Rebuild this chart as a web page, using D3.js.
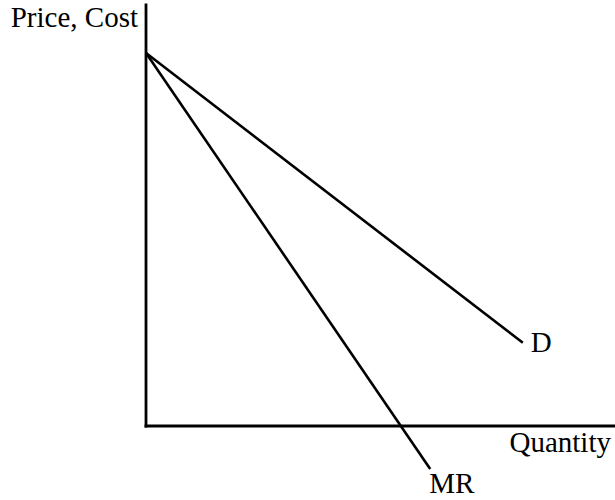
<!DOCTYPE html>
<html>
<head>
<meta charset="utf-8">
<script src="https://cdn.jsdelivr.net/npm/d3@7"></script>
<style>
  html, body { margin: 0; padding: 0; background: #fff; }
  svg { display: block; }
  text { font-family: "Liberation Serif", "Times New Roman", serif; fill: #000; }
</style>
</head>
<body>
<svg width="615" height="500"></svg>
<script>
// значения (условные единицы)
const axisExtent = { q: 9.67, p: 11.29 };

const demandPoints = [[0, 10], [7.77, 2.23]];
const mrPoints = [[0, 10], [5.86, -1.15]];

const axisLabels = ["Price, Cost", "Quantity"];
const curveLabels = ["D", "MR"];

const svg = d3.select("svg");

const attr_area = {
    originX: 146,
    originY: 426,
    unitX: 48.5,
    unitY: 37.3
};

const scX = d3.scaleLinear()
    .domain([0, 10])
    .range([attr_area.originX, attr_area.originX + 10 * attr_area.unitX]);

const scY = d3.scaleLinear()
    .domain([0, 10])
    .range([attr_area.originY, attr_area.originY - 10 * attr_area.unitY]);

// оси
const axes = [
    [[0, 0], [0, axisExtent.p]],
    [[0, 0], [axisExtent.q, 0]]
];

const line = d3.line()
    .x(d => scX(d[0]))
    .y(d => scY(d[1]));

svg.selectAll(".axis")
    .data(axes)
    .enter()
    .append("path")
    .attr("class", "axis")
    .attr("d", line)
    .attr("fill", "none")
    .attr("stroke", "#000")
    .attr("stroke-width", 2.8)
    .attr("stroke-linecap", "square");

// кривые спроса и предельного дохода
svg.selectAll(".curve")
    .data([demandPoints, mrPoints])
    .enter()
    .append("path")
    .attr("class", "curve")
    .attr("d", line)
    .attr("fill", "none")
    .attr("stroke", "#000")
    .attr("stroke-width", 2.6);

// подписи
const fs = 29;

svg.append("text")
    .attr("x", scX(0) - 8)
    .attr("y", 27)
    .attr("text-anchor", "end")
    .style("font-size", fs + "px")
    .text(axisLabels[0]);

svg.append("text")
    .attr("x", 611)
    .attr("y", scY(0) + 26)
    .attr("text-anchor", "end")
    .style("font-size", fs + "px")
    .text(axisLabels[1]);

const dEnd = demandPoints[demandPoints.length - 1];
svg.append("text")
    .attr("x", scX(dEnd[0]) + 8)
    .attr("y", scY(dEnd[1]) + 9)
    .style("font-size", fs + "px")
    .text(curveLabels[0]);

const mrEnd = mrPoints[mrPoints.length - 1];
svg.append("text")
    .attr("x", scX(mrEnd[0]) - 1)
    .attr("y", scY(mrEnd[1]) + 24)
    .style("font-size", fs + "px")
    .text(curveLabels[1]);
</script>
</body>
</html>
